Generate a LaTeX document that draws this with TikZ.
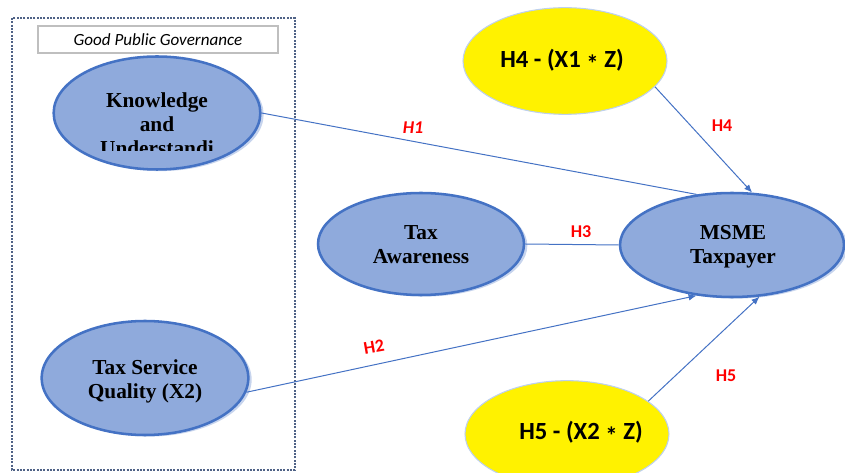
\documentclass[tikz,border=0pt]{standalone}
\usepackage{fontspec}
\setmainfont{Liberation Serif}
\newfontfamily\calibri{Carlito}
\usetikzlibrary{shapes.geometric,shadows,arrows.meta}

\definecolor{varfill}{HTML}{8FAADC}
\definecolor{varline}{HTML}{4472C4}
\definecolor{modline}{HTML}{BDD0EE}
\definecolor{boxline}{HTML}{4F6286}

\newcommand{\lowstar}{\raisebox{-0.2em}{*}}

\begin{document}
\begin{tikzpicture}[x=0.75pt, y=-0.75pt,
    varnode/.style={ellipse, draw=varline, line width=1.9pt, fill=varfill,
      drop shadow={shadow xshift=2.5pt, shadow yshift=-1.2pt, fill=varline!50, opacity=0.6}},
    vartext/.style={align=center, font=\fontsize{16}{18}\selectfont\bfseries},
    modnode/.style={ellipse, draw=modline, line width=0.8pt, fill=yellow,
      minimum width=153pt, minimum height=80pt},
    modtext/.style={font=\calibri\fontsize{18.5}{20}\selectfont\bfseries},
    hyp/.style={text=red, font=\calibri\fontsize{13.5}{15}\selectfont\bfseries},
    link/.style={draw=varline, line width=0.75pt},
    arr/.style={link, -{Latex[length=6pt, width=5pt]}}]

    \useasboundingbox (0,0) rectangle (845,473);

    % gruppe
    \draw[boxline, line width=0.8pt, dash pattern=on 1.5pt off 1pt] (12,18) rectangle (295,470);
    \node[draw=gray!50, line width=0.8pt, minimum width=180pt, minimum height=20.25pt,
      font=\calibri\fontsize{12.8}{14}\selectfont\itshape] (title) at (158,39.5) {Good Public Governance};

    % variablen
    \node[varnode, minimum width=155pt, minimum height=84.75pt] (know) at (157,113) {};
    \node[varnode, minimum width=155pt, minimum height=85.5pt] (serv) at (145,378) {};
    \node[varnode, minimum width=154.5pt, minimum height=76.5pt] (aware) at (421,244) {};
    \node[varnode, minimum width=168pt, minimum height=78pt] (msme) at (732,245) {};

    % moderation
    \node[modnode] (h4) at (565,61) {};
    \node[modnode] (h5) at (567,434) {};

    % texte
    \begin{scope}
      \clip (40,60) rectangle (275,151);
      \node[vartext] (knowtext) at (157,124) {Knowledge\\and\\Understandi};
    \end{scope}
    \node[vartext] (servtext) at (145,381) {Tax Service\\Quality (X2)};
    \node[vartext] (awaretext) at (421,245) {Tax\\Awareness};
    \node[vartext] (msmetext) at (733,247) {MSME\\Taxpayer};
    \node[modtext] (h4text) at (562,61) {H4 - (X1 \lowstar{} Z)};
    \node[modtext] (h5text) at (581,433) {H5 - (X2 \lowstar{} Z)};

    % pfeile
    \draw[link] (know.east) -- (msme.125);
    \draw[link] (aware.east) -- (msme.west);
    \draw[arr] (serv.-8) -- (msme.235);
    \draw[arr] (h4.-16) -- (msme.69);
    \draw[arr] (h5.22) -- (msme.-62);

    % hypothesen
    \node[hyp] (lh1) at (413,128) {\textit{H1}};
    \node[hyp, rotate=10] (lh2) at (374,347) {H2};
    \node[hyp] (lh3) at (581,232) {H3};
    \node[hyp] (lh4) at (722,126) {H4};
    \node[hyp] (lh5) at (726,376) {H5};

\end{tikzpicture}
\end{document}
